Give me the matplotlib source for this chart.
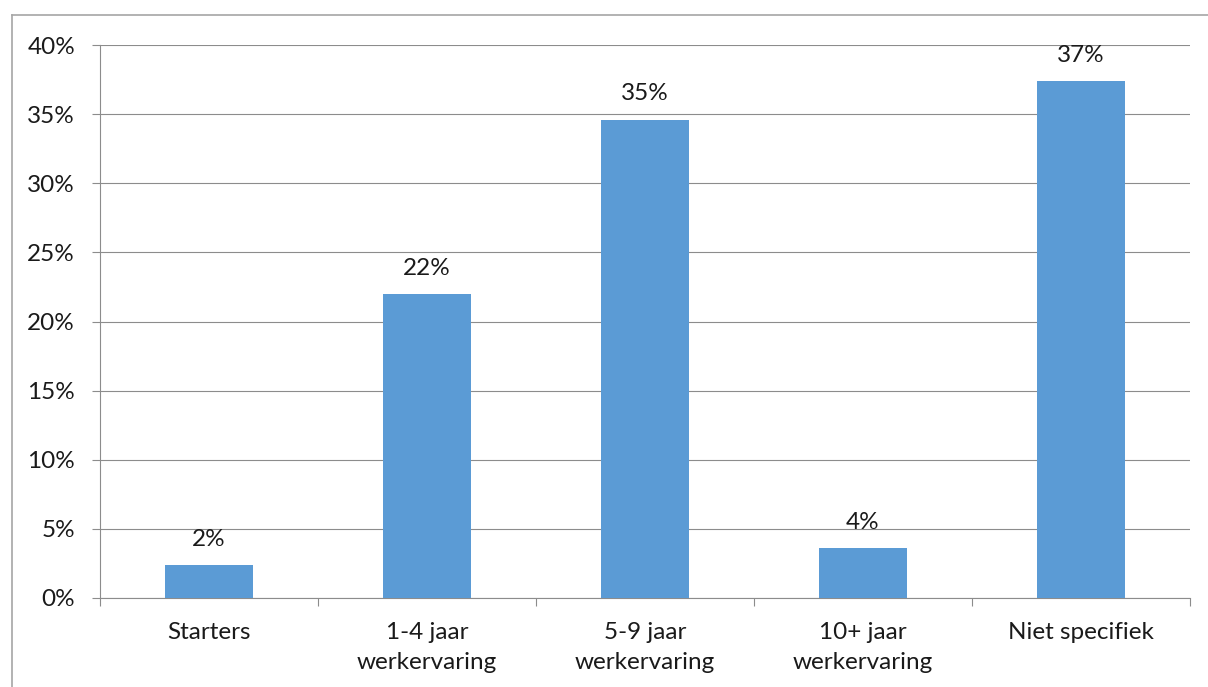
import matplotlib.pyplot as plt
from matplotlib.lines import Line2D
from matplotlib.ticker import FixedLocator, PercentFormatter

# Share of vacancies per level of required work experience (%)
categories = ["Starters", "1-4 jaar\nwerkervaring", "5-9 jaar\nwerkervaring",
              "10+ jaar\nwerkervaring", "Niet specifiek"]
shares = [2.4, 22.0, 34.6, 3.6, 37.4]
y_ticks = [0, 5, 10, 15, 20, 25, 30, 35, 40]

bar_color = "#5B9BD5"
grid_color = "#8C8C8C"
text_color = "#1a1a1a"
fs = 17.5

plt.rcParams['font.family'] = ['Lato', 'DejaVu Sans']
plt.rcParams['font.size'] = fs

fig = plt.figure(figsize=(12.08, 6.87), dpi=100)
ax = fig.add_axes([100 / 1208, 89 / 687, 1090 / 1208, 553 / 687])

x = list(range(len(categories)))
bars = ax.bar(x, shares, width=0.4, color=bar_color, zorder=3)

for rect, val in zip(bars, shares):
    ax.annotate(f"{val:.0f}%", (rect.get_x() + rect.get_width() / 2, rect.get_height()),
                xytext=(0, 11), textcoords="offset points", ha="center", va="bottom",
                fontsize=fs, color=text_color)

ax.set_xlim(-0.5, len(categories) - 0.5)
ax.set_ylim(0, 40)
ax.yaxis.set_major_locator(FixedLocator(y_ticks))
ax.yaxis.set_major_formatter(PercentFormatter(decimals=0))

# category boundaries carry the tick marks, labels sit on the centres
ax.xaxis.set_major_locator(FixedLocator([i - 0.5 for i in range(len(categories) + 1)]))
ax.xaxis.set_major_formatter(plt.NullFormatter())
ax.xaxis.set_minor_locator(FixedLocator(x))
ax.set_xticklabels(categories, minor=True, linespacing=1.55)
ax.tick_params(axis="x", which="major", length=6, width=0.8, color=grid_color)
ax.tick_params(axis="x", which="minor", length=0, pad=17, labelsize=fs, labelcolor=text_color)
ax.tick_params(axis="y", length=6, width=0.8, color=grid_color, pad=12,
               labelsize=fs, labelcolor=text_color)

ax.grid(axis="y", color=grid_color, linewidth=0.8, zorder=0)
for side in ("top", "right"):
    ax.spines[side].set_visible(False)
for side in ("left", "bottom"):
    ax.spines[side].set_color(grid_color)
    ax.spines[side].set_linewidth(0.8)

# chart frame, cut off on the right and bottom
fig.add_artist(Line2D([12 / 1208, 1.0], [1 - 15 / 687, 1 - 15 / 687],
                      transform=fig.transFigure, color="#A6A6A6", linewidth=1.2))
fig.add_artist(Line2D([12 / 1208, 12 / 1208], [0.0, 1 - 15 / 687],
                      transform=fig.transFigure, color="#A6A6A6", linewidth=1.2))

fig.savefig("out.png", dpi=100)
